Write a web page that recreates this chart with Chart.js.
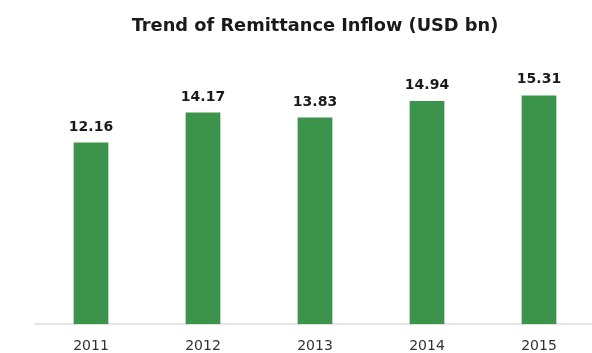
<!DOCTYPE html>
<html>
<head>
  <meta charset="utf-8" />
  <title>Remittance Inflow</title>
  <script src="https://cdn.jsdelivr.net/npm/chart.js"></script>
  <style>
    html, body { margin: 0; padding: 0; background: #fff; overflow: hidden; }
  </style>
</head>
<body>
  <canvas id="remitChart" width="595" height="353"></canvas>

  <script>
  // yearly remittance inflow, USD bn
  const years = ['2011', '2012', '2013', '2014', '2015'];
  const inflow = [12.16, 14.17, 13.83, 14.94, 15.31];

  // value printed above each bar
  const barValues = {
    id: 'barValues',
    afterDatasetsDraw(chart) {
      const ctx = chart.ctx;
      const meta = chart.getDatasetMeta(0);
      ctx.save();
      ctx.font = 'bold 14px "DejaVu Sans", sans-serif';
      ctx.fillStyle = '#1a1a1a';
      ctx.textAlign = 'center';
      ctx.textBaseline = 'alphabetic';
      meta.data.forEach((bar, i) => {
        ctx.fillText(inflow[i].toFixed(2), bar.x, bar.y - 12);
      });
      ctx.restore();
    }
  };

  new Chart(document.getElementById('remitChart').getContext('2d'), {
    type: 'bar',
    data: {
      labels: years,
      datasets: [{
        data: inflow,
        backgroundColor: '#3b944a',
        barPercentage: 0.31,
        categoryPercentage: 1
      }]
    },
    options: {
      responsive: false,
      animation: false,
      layout: { padding: { left: 35, right: 0, top: 0, bottom: -8 } },
      plugins: {
        legend: { display: false },
        tooltip: { enabled: false },
        title: {
          display: true,
          text: 'Trend of Remittance Inflow (USD bn)',
          color: '#1a1a1a',
          font: { family: '"DejaVu Sans", sans-serif', size: 17.8, weight: 'bold', lineHeight: 1.2 },
          padding: { top: 16, bottom: 3 }
        }
      },
      scales: {
        x: {
          grid: { display: false },
          border: { display: true, color: '#e6e6e6', width: 2 },
          ticks: {
            color: '#333',
            padding: 6,
            font: { family: '"DejaVu Sans", sans-serif', size: 14, lineHeight: 1.2 }
          }
        },
        y: {
          display: false,
          min: 0,
          max: 19
        }
      }
    },
    plugins: [barValues]
  });
  </script>
</body>
</html>
